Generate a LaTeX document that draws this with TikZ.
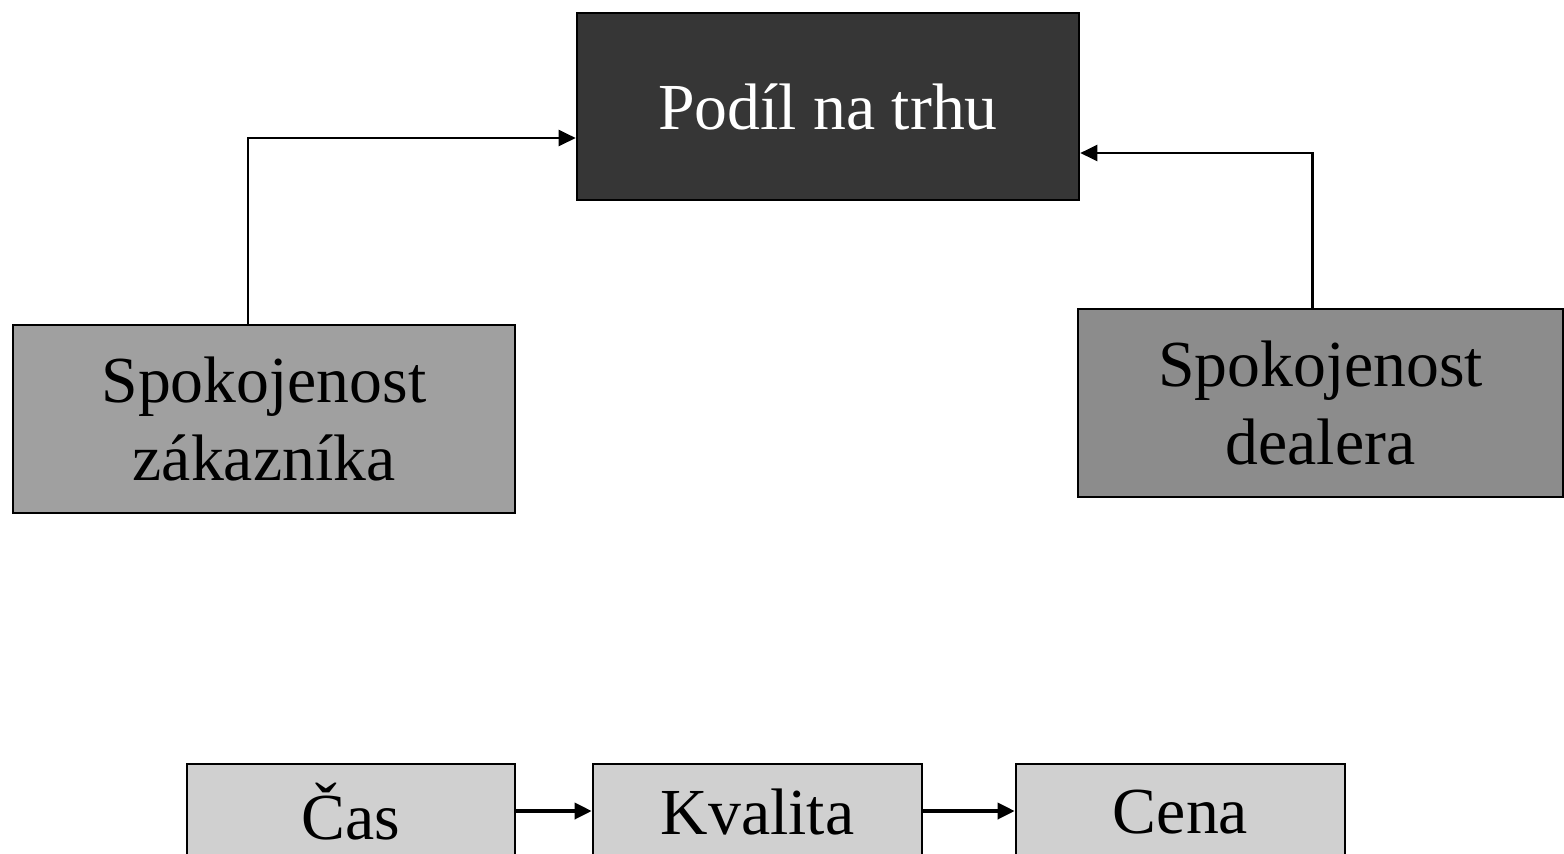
\documentclass[tikz,border=0pt]{standalone}
\usepackage{fontspec}
\setmainfont{Liberation Serif}
\usetikzlibrary{arrows.meta}
\begin{document}
\begin{tikzpicture}[line width=0.7pt, >={Triangle[length=1.7mm,width=1.6mm]},
		main/.style = {draw, line width=0.75pt, rectangle, align=center, inner sep=0pt, font=\fontsize{18.7}{22.2}\selectfont}]
		\useasboundingbox (0,0) rectangle (15.64,8.53);
		\clip (0,0) rectangle (15.64,8.53);
		\node[main, fill={rgb,255:red,54;green,54;blue,54}, text=white, minimum width=5.02cm, minimum height=1.87cm] (podil) at (8.28,7.465) {Podíl na trhu};
		\node[main, fill={rgb,255:red,160;green,160;blue,160}, minimum width=5.02cm, minimum height=1.88cm] (zak) at (2.64,4.34) {Spokojenost\\zákazníka};
		\node[main, fill={rgb,255:red,140;green,140;blue,140}, minimum width=4.85cm, minimum height=1.88cm] (dealer) at (13.205,4.50) {Spokojenost\\dealera};
		\node[main, fill={rgb,255:red,208;green,208;blue,208}, minimum width=3.28cm, minimum height=0.96cm] (cas) at (3.51,0.41) {Čas};
		\node[main, fill={rgb,255:red,208;green,208;blue,208}, minimum width=3.29cm, minimum height=0.96cm] (kvalita) at (7.575,0.41) {Kvalita};
		\node[main, fill={rgb,255:red,208;green,208;blue,208}, minimum width=3.29cm, minimum height=0.96cm] (cena) at (11.805,0.41) {Cena};
		\draw[->] ([xshift=-1.6mm]zak.north) |- ([yshift=-3.15mm]podil.west);
		\draw[->] ([xshift=-0.8mm]dealer.north) |- ([yshift=-4.65mm]podil.east);
		\draw[->, line width=1pt] (cas.east |- 0,0.42) -- (kvalita.west |- 0,0.42);
		\draw[->, line width=1pt] (kvalita.east |- 0,0.42) -- (cena.west |- 0,0.42);
\end{tikzpicture}
\end{document}
